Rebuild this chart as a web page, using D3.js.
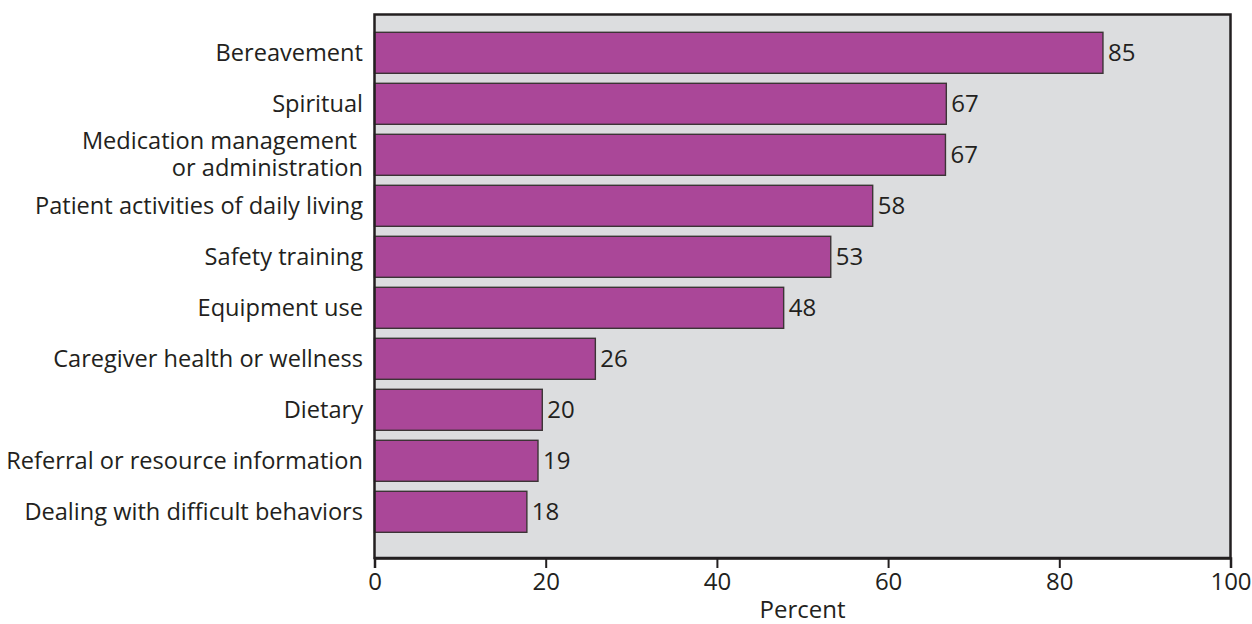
<!DOCTYPE html>
<html><head><meta charset="utf-8">
<script src="https://cdn.jsdelivr.net/npm/d3@7"></script>
<style>body{margin:0;background:#fff}</style>
</head><body>
<svg id="c" width="1252" height="624"></svg>
<script>
const categories = [
  ["Bereavement"],
  ["Spiritual"],
  ["Medication management ", "or administration"],
  ["Patient activities of daily living"],
  ["Safety training"],
  ["Equipment use"],
  ["Caregiver health or wellness"],
  ["Dietary"],
  ["Referral or resource information"],
  ["Dealing with difficult behaviors"]
];
const values = [85.1, 66.8, 66.7, 58.2, 53.3, 47.8, 25.8, 19.6, 19.1, 17.8];
const valueLabels = ["85", "67", "67", "58", "53", "48", "26", "20", "19", "18"];
const xTicks = [0, 20, 40, 60, 80, 100];
const xTitle = "Percent";

const FONT = "'Open Sans', sans-serif";
const FS = 24;
const CFS = 23.6;
const INK = "#231f20";
const svg = d3.select("#c");
const L = 374.5, R = 1230.5, T = 14.5, B = 558;

const x = d3.scaleLinear().domain([0, 100]).range([L, R]);
const idx = categories.map((d, i) => i);
const y = d3.scaleBand().domain(idx).range([22.1, 542.5]).paddingInner(0.196).paddingOuter(0.2);

svg.append("rect").attr("x", L).attr("y", T).attr("width", R - L).attr("height", B - T)
  .attr("fill", "#dcdddf");

svg.selectAll("rect.bar").data(values).join("rect").attr("class", "bar")
  .attr("x", x(0)).attr("y", (d, i) => y(i))
  .attr("width", d => x(d) - x(0)).attr("height", y.bandwidth())
  .attr("fill", "#aa4798").attr("stroke", "#3c3436").attr("stroke-width", 1.4);

svg.selectAll("text.val").data(values).join("text").attr("class", "val")
  .attr("x", d => x(d) + 5).attr("y", (d, i) => y(i) + y.bandwidth() / 2)
  .attr("dy", "0.36em").attr("font-family", FONT).attr("font-size", FS)
  .attr("fill", INK).text((d, i) => valueLabels[i]);

const cat = svg.selectAll("text.cat").data(categories).join("text").attr("class", "cat")
  .attr("text-anchor", "end").attr("font-family", FONT).attr("font-size", CFS).attr("fill", INK)
  .attr("x", 363).attr("xml:space", "preserve")
  .attr("y", (d, i) => y(i) + y.bandwidth() / 2);
cat.each(function(lines) {
  const n = lines.length;
  d3.select(this).selectAll("tspan").data(lines).join("tspan")
    .attr("x", 363)
    .attr("dy", (l, j) => j === 0 ? `${0.36 - (n - 1) * 0.6}em` : "1.14em")
    .text(l => l);
});

// frame
svg.append("rect").attr("x", L).attr("y", T).attr("width", R - L).attr("height", B - T)
  .attr("fill", "none").attr("stroke", INK).attr("stroke-width", 2.5);

const ax = svg.append("g").attr("transform", `translate(0,${B})`)
  .call(d3.axisBottom(x).tickValues(xTicks).tickSize(10).tickPadding(5).tickFormat(d3.format("d")));
ax.select(".domain").attr("stroke", INK).attr("stroke-width", 2.5);
ax.selectAll(".tick line").attr("stroke", INK).attr("stroke-width", 2);
ax.selectAll(".tick text").attr("font-family", FONT).attr("font-size", FS).attr("fill", INK);

svg.append("text").attr("x", (L + R) / 2).attr("y", 618).attr("text-anchor", "middle")
  .attr("font-family", FONT).attr("font-size", FS).attr("fill", INK).text(xTitle);
</script>
</body></html>
